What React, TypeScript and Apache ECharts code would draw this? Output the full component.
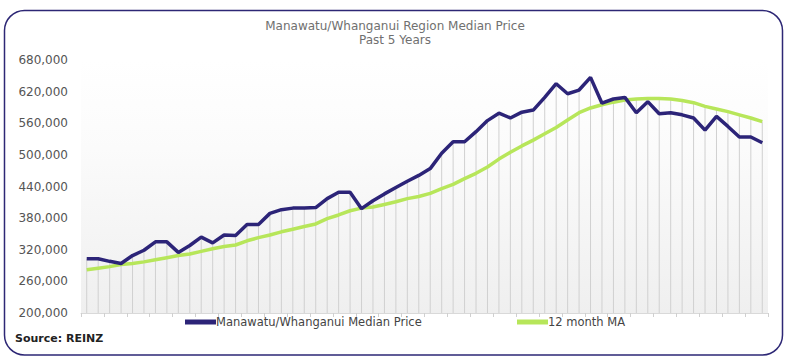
import React, { useEffect, useRef } from "react";
import * as echarts from "echarts";

const titleText = "Manawatu/Whanganui Region Median Price";
const subTitleText = "Past 5 Years";
const sourceText = "Source: REINZ";
const seriesNames = ["Manawatu/Whanganui Median Price", "12 month MA"];

const yMin = 200000;
const yMax = 680000;
const yStep = 60000;

const medianPrice = [
  303000, 303000, 298000, 294000, 309000, 319000, 335000, 335000, 315000, 328000,
  344000, 333000, 348000, 347000, 368000, 368000, 389000, 396000, 399000, 399000,
  400000, 417000, 429000, 429000, 398000, 413000, 426000, 438000, 450000, 461000,
  474000, 503000, 525000, 525000, 544000, 565000, 579000, 570000, 581000, 585000,
  609000, 635000, 616000, 623000, 647000, 598000, 606000, 609000, 580000, 601000,
  578000, 580000, 576000, 570000, 547000, 573000, 554000, 534000, 534000, 523000,
];

const movingAvg = [
  282000, 285000, 288000, 292000, 294000, 297000, 301000, 305000, 309000, 312000,
  317000, 322000, 326000, 329000, 337000, 343000, 348000, 354000, 359000, 364000,
  369000, 379000, 386000, 394000, 399000, 401000, 406000, 411000, 417000, 421000,
  427000, 436000, 444000, 455000, 465000, 477000, 492000, 505000, 517000, 528000,
  540000, 552000, 566000, 580000, 589000, 595000, 600000, 604000, 606000, 607000,
  607000, 606000, 603000, 599000, 592000, 587000, 582000, 576000, 570000, 563000,
];

const categories = medianPrice.map((_, i) => String(i + 1));
const dropLines = medianPrice.map((v, i) => Math.max(v, movingAvg[i]));

const DARK = "#2c2478";
const GREEN = "#b7e65a";
const FONT = "DejaVu Sans";

export default function App() {
  const ref = useRef<HTMLDivElement>(null);
  useEffect(() => {
    if (!ref.current) return;
    const chart = echarts.init(ref.current, undefined, { renderer: "svg" });
    chart.setOption({
      animation: false,
      backgroundColor: "#ffffff",
      textStyle: { fontFamily: FONT },
      graphic: [
        {
          type: "rect",
          shape: { x: 4.5, y: 10.5, width: 778, height: 344.5, r: 20 },
          style: { fill: "none", stroke: "#2d2775", lineWidth: 1.5 },
          silent: true,
        },
        {
          type: "text",
          left: 15,
          top: 333,
          style: {
            text: sourceText,
            font: `bold 11px "${FONT}"`,
            fill: "#222222",
          },
        },
      ],
      title: {
        text: titleText,
        subtext: subTitleText,
        left: "center",
        top: 14,
        itemGap: 1,
        textStyle: {
          fontFamily: FONT,
          fontSize: 12,
          lineHeight: 13,
          fontWeight: "normal",
          color: "#707070",
        },
        subtextStyle: { fontFamily: FONT, fontSize: 12, lineHeight: 13, color: "#707070" },
      },
      legend: [
        {
          data: [seriesNames[0]],
          left: 180,
          top: 311,
          icon: "rect",
          itemWidth: 31,
          itemHeight: 5,
          textStyle: { fontFamily: FONT, fontSize: 11.5, color: "#444444", padding: [0, 0, 0, -5] },
        },
        {
          data: [seriesNames[1]],
          left: 512,
          top: 311,
          icon: "rect",
          itemWidth: 31,
          itemHeight: 5,
          textStyle: { fontFamily: FONT, fontSize: 11.5, color: "#444444", padding: [0, 0, 0, -5] },
        },
      ],
      grid: {
        left: 81,
        right: 22,
        top: 60,
        bottom: 51,
        show: true,
        borderWidth: 0,
        backgroundColor: new echarts.graphic.LinearGradient(0, 0, 0, 1, [
          { offset: 0, color: "#ffffff" },
          { offset: 0.35, color: "#fbfbfb" },
          { offset: 1, color: "#efefef" },
        ]),
      },
      xAxis: {
        type: "category",
        data: categories,
        boundaryGap: true,
        axisLine: { show: true, lineStyle: { color: "#d9d9d9", width: 1 } },
        axisTick: { show: true, length: 4, lineStyle: { color: "#d0d0d0" } },
        axisLabel: { show: false },
        splitLine: { show: false },
      },
      yAxis: {
        type: "value",
        min: yMin,
        max: yMax,
        interval: yStep,
        axisLine: { show: false },
        axisTick: { show: false },
        splitLine: { show: false },
        axisLabel: {
          margin: 13,
          fontFamily: FONT,
          fontSize: 12,
          color: "#555555",
          formatter: (v: number) => v.toLocaleString("en-US"),
        },
      },
      series: [
        {
          name: "drop",
          type: "bar",
          data: dropLines,
          barWidth: 1,
          itemStyle: { color: "#d0d0d0" },
          silent: true,
          z: 1,
        },
        {
          name: seriesNames[0],
          type: "line",
          data: medianPrice,
          showSymbol: false,
          symbol: "none",
          lineStyle: { color: DARK, width: 3.5 },
          itemStyle: { color: DARK },
          z: 4,
        },
        {
          name: seriesNames[1],
          type: "line",
          data: movingAvg,
          showSymbol: false,
          symbol: "none",
          lineStyle: { color: GREEN, width: 3.5 },
          itemStyle: { color: GREEN },
          z: 3,
        },
      ],
    });
    return () => chart.dispose();
  }, []);
  return (
    <div
      ref={ref}
      style={{ position: "absolute", left: 0, top: 0, width: 790, height: 364 }}
    />
  );
}
